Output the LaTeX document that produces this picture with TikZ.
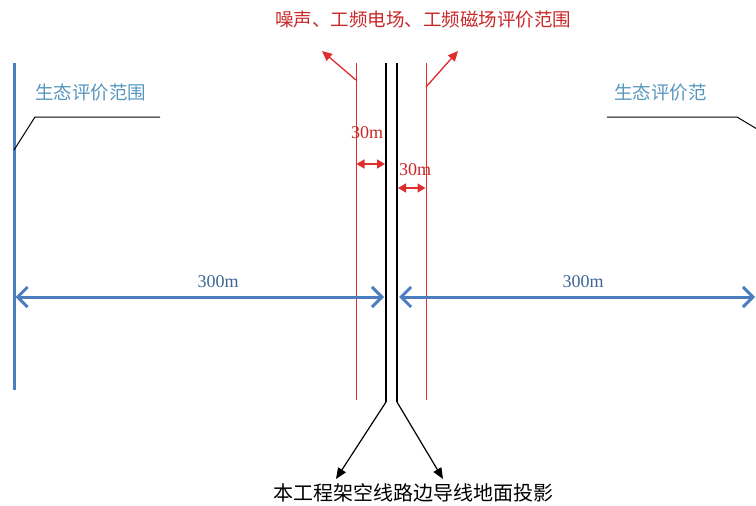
\documentclass[tikz,border=0pt]{standalone}
\usepackage{fontspec}
\setmainfont{Liberation Serif}
\newfontfamily\cjk{Noto Sans CJK SC}
\usepackage{tikz}
\usetikzlibrary{arrows.meta}
\definecolor{ecoblue}{RGB}{74,126,190}
\definecolor{ecotext}{RGB}{88,150,190}
\definecolor{rangered}{RGB}{222,45,45}
\definecolor{rangetext}{RGB}{200,40,40}

\begin{document}
\begin{tikzpicture}[x=1pt, y=-1pt,
        ecoline/.style={draw=ecoblue, line width=3pt},
        ecoarrow/.style={ecoblue, line width=3pt, {Straight Barb[length=10pt, width=20pt, line width=3pt]}-{Straight Barb[length=10pt, width=20pt, line width=3pt]}},
        conductor/.style={draw=black, line width=2.4pt},
        rangeline/.style={draw=rangered, line width=0.9pt},
        rangearrow/.style={rangered, line width=1.3pt, -{Triangle[length=10pt, width=9pt]}},
        rangedim/.style={rangered, line width=1.5pt, {Triangle[length=8pt, width=9pt]}-{Triangle[length=8pt, width=9pt]}},
        leader/.style={draw=black, line width=1pt},
        pointer/.style={black, line width=1.2pt, -{Triangle[length=11pt, width=9pt]}},
        ecolabel/.style={text=ecotext, font=\cjk\fontsize{18.5}{20}\selectfont, inner sep=0pt},
        rangelabel/.style={text=rangetext, font=\cjk\fontsize{18.5}{20}\selectfont, inner sep=0pt},
        dimlabel/.style={font=\fontsize{18}{20}\selectfont, inner sep=0pt},
        bottomlabel/.style={text=black, font=\cjk\fontsize{20}{22}\selectfont, inner sep=0pt}
    ]
        \useasboundingbox (0,0) rectangle (756,506);

        % ecological range, left boundary
        \coordinate (eco-top) at (14,63);
        \coordinate (eco-bot) at (14,390);
        \draw[ecoline] (eco-top) -- (eco-bot);

        % conductor ground projections
        \coordinate (cond-l-top) at (386,63);
        \coordinate (cond-l-bot) at (386,402);
        \coordinate (cond-r-top) at (397,63);
        \coordinate (cond-r-bot) at (397,402);
        \draw[conductor] (cond-l-top) -- (cond-l-bot);
        \draw[conductor] (cond-r-top) -- (cond-r-bot);

        % noise / field range lines
        \coordinate (rng-l-top) at (356,63);
        \coordinate (rng-l-bot) at (356,400);
        \coordinate (rng-r-top) at (426,63);
        \coordinate (rng-r-bot) at (426,400);
        \draw[rangeline] (rng-l-top) -- (rng-l-bot);
        \draw[rangeline] (rng-r-top) -- (rng-r-bot);

        % range label and its arrows
        \node[rangelabel] (rng-lbl) at (423,20) {噪声、工频电场、工频磁场评价范围};
        \coordinate (rng-l-src) at (356,80);
        \coordinate (rng-l-tip) at (322,51);
        \coordinate (rng-r-src) at (426,87);
        \coordinate (rng-r-tip) at (458,51);
        \draw[rangearrow] (rng-l-src) -- (rng-l-tip);
        \draw[rangearrow] (rng-r-src) -- (rng-r-tip);

        % 30m dimensions
        \node[dimlabel, text=rangetext] (dim-l-lbl) at (367,133) {30m};
        \coordinate (dim-l-a) at (356.5,164);
        \coordinate (dim-l-b) at (385,164);
        \draw[rangedim] (dim-l-a) -- (dim-l-b);
        \node[dimlabel, text=rangetext] (dim-r-lbl) at (415,170) {30m};
        \coordinate (dim-r-a) at (398,188);
        \coordinate (dim-r-b) at (425.5,188);
        \draw[rangedim] (dim-r-a) -- (dim-r-b);

        % ecological range labels
        \node[ecolabel, anchor=west] (eco-l-lbl) at (35,93) {生态评价范围};
        \coordinate (eco-l-knee) at (35,117);
        \coordinate (eco-l-end) at (160,117);
        \coordinate (eco-l-foot) at (14,150);
        \draw[leader] (eco-l-foot) -- (eco-l-knee) -- (eco-l-end);

        \node[ecolabel, anchor=west] (eco-r-lbl) at (614,93) {生态评价范};
        \coordinate (eco-r-start) at (607,117);
        \coordinate (eco-r-knee) at (737,117);
        \coordinate (eco-r-foot) at (757,129);
        \draw[leader] (eco-r-start) -- (eco-r-knee) -- (eco-r-foot);

        % 300m arrows
        \coordinate (eco-l-mid) at (15.5,297);
        \coordinate (cond-l-mid) at (384,297);
        \coordinate (cond-r-mid) at (399,297);
        \coordinate (eco-r-mid) at (755,297);
        \draw[ecoarrow] (eco-l-mid) -- (cond-l-mid);
        \draw[ecoarrow] (cond-r-mid) -- (eco-r-mid);
        \node[dimlabel, text=ecoblue!80!black] (dist-l-lbl) at (218,282) {300m};
        \node[dimlabel, text=ecoblue!80!black] (dist-r-lbl) at (583,282) {300m};

        % projection label
        \node[bottomlabel] (proj-lbl) at (413,493) {本工程架空线路边导线地面投影};
        \coordinate (proj-l-tip) at (336,479);
        \coordinate (proj-r-tip) at (443,479);
        \draw[pointer] (cond-l-bot) -- (proj-l-tip);
        \draw[pointer] (cond-r-bot) -- (proj-r-tip);
    \end{tikzpicture}
\end{document}
